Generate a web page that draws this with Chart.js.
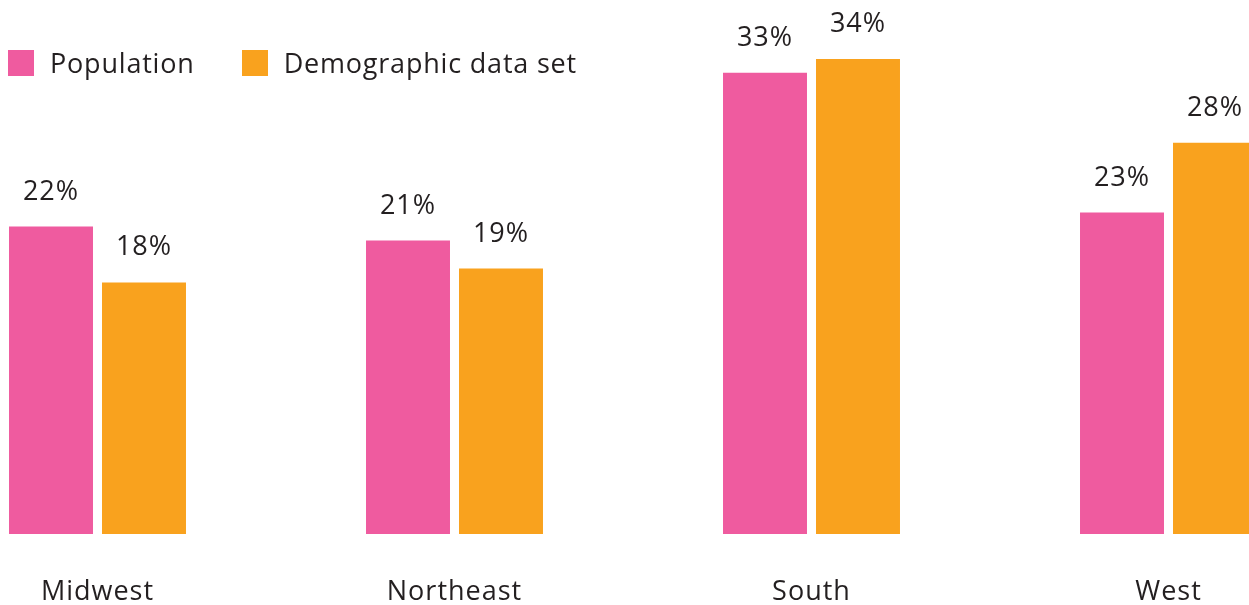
<!DOCTYPE html>
<html>
<head>
<meta charset="utf-8">
<script src="https://cdn.jsdelivr.net/npm/chart.js@4/dist/chart.umd.min.js"></script>
<style>
  html, body { margin: 0; padding: 0; background: #fff; overflow: hidden; }
  body { width: 1249px; height: 605px; position: relative; font-family: "Open Sans", sans-serif; color: #231f20; }
  #wrap { position: absolute; left: -81px; top: 0; width: 1428px; height: 605px; }
  #legend { position: absolute; left: 8px; top: 48px; display: flex; align-items: center; font-size: 27px; line-height: 30px; letter-spacing: 0.8px; }
  #legend .item { display: flex; align-items: center; margin-right: 47px; }
  #legend .box { width: 26px; height: 26px; margin-right: 16px; }
</style>
</head>
<body>
<div id="wrap"><canvas id="mycanvas"></canvas></div>
<div id="legend"></div>
<script>
var regions = ["Midwest", "Northeast", "South", "West"];
var population = [22, 21, 33, 23];
var demographic = [18, 19, 34, 28];
var seriesNames = ["Population", "Demographic data set"];
var colors = ["#ef5b9f", "#f9a21e"];

// a touch of tracking on all canvas text
var tracking = {
	id: 'tracking',
	beforeDraw: function(chart){ chart.ctx.letterSpacing = '1px'; }
};

// value labels above each bar
var valueLabels = {
	id: 'valueLabels',
	afterDatasetsDraw: function(chart){
		var ctx = chart.ctx;
		ctx.save();
		ctx.font = '27px "Open Sans"';
		ctx.fillStyle = '#231f20';
		ctx.textAlign = 'center';
		ctx.textBaseline = 'alphabetic';
		chart.data.datasets.forEach(function(ds, i){
			chart.getDatasetMeta(i).data.forEach(function(bar, j){
				ctx.fillText(ds.data[j] + '%', bar.x, bar.y - 27);
			});
		});
		ctx.restore();
	}
};

var chartdata = {
	labels: regions,
	datasets: [
		{ label: seriesNames[0], backgroundColor: colors[0], data: population },
		{ label: seriesNames[1], backgroundColor: colors[1], data: demographic }
	]
};

var barGraph = new Chart(document.getElementById('mycanvas'), {
	type: 'bar',
	data: chartdata,
	options: {
		responsive: true,
		maintainAspectRatio: false,
		animation: false,
		categoryPercentage: 0.521,
		barPercentage: 0.903,
		layout: { padding: { top: 3, left: 0, right: 0, bottom: 0 } },
		plugins: { legend: { display: false }, tooltip: { enabled: false } },
		scales: {
			x: {
				grid: { display: false, drawTicks: false },
				border: { display: false },
				ticks: { padding: 42, color: '#231f20', font: { family: 'Open Sans', size: 27 } },
				afterFit: function(scale){ scale.height = 71; }
			},
			y: { display: false, min: 0, max: 38 }
		}
	},
	plugins: [tracking, valueLabels]
});

// html legend
var legend = document.getElementById('legend');
seriesNames.forEach(function(name, i){
	var item = document.createElement('div');
	item.className = 'item';
	item.innerHTML = '<span class="box" style="background:' + colors[i] + '"></span><span>' + name + '</span>';
	legend.appendChild(item);
});
</script>
</body>
</html>
